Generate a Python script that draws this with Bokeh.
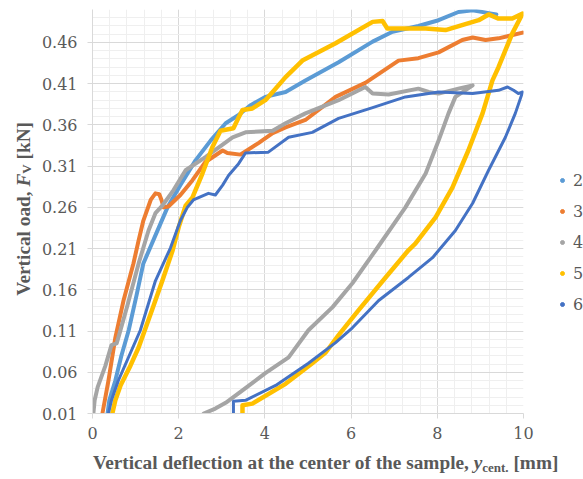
from bokeh.plotting import figure
from bokeh.models import (FixedTicker, Legend, LegendItem, Range1d, Div)
from bokeh.layouts import column, row
from bokeh.embed import file_html
from bokeh.resources import INLINE

# ---------------- data ----------------
series_names = ["2", "3", "4", "5", "6"]

x2 = [0.35, 0.39, 0.53, 0.67, 0.84, 1.02, 1.18, 1.46, 1.74, 2.04, 2.39, 2.74,
      3.09, 3.39, 3.67, 4.01, 4.48, 4.94, 5.71, 6.50, 6.96, 7.56, 8.03, 8.49,
      8.82, 9.26, 9.37]
y2 = [0.010, 0.026, 0.050, 0.080, 0.111, 0.153, 0.192, 0.226, 0.260, 0.287,
      0.317, 0.341, 0.362, 0.372, 0.384, 0.394, 0.400, 0.414, 0.436, 0.461,
      0.473, 0.480, 0.487, 0.497, 0.499, 0.495, 0.494]

x3 = [0.23, 0.37, 0.53, 0.72, 0.95, 1.07, 1.18, 1.35, 1.46, 1.55, 1.60, 1.65,
      1.76, 2.04, 2.32, 2.62, 3.02, 3.13, 3.43, 3.85, 4.18, 4.48, 4.94, 5.64,
      6.33, 7.10, 7.56, 8.03, 8.58, 8.82, 9.12, 9.42, 9.98]
y3 = [0.010, 0.050, 0.102, 0.147, 0.192, 0.220, 0.244, 0.269, 0.277, 0.276,
      0.269, 0.260, 0.261, 0.275, 0.293, 0.315, 0.329, 0.326, 0.324, 0.338,
      0.350, 0.357, 0.366, 0.394, 0.411, 0.438, 0.441, 0.448, 0.463, 0.466,
      0.463, 0.465, 0.472]

x4 = [0.02, 0.05, 0.12, 0.30, 0.44, 0.56, 0.60, 0.81, 1.07, 1.30, 1.46, 1.62,
      1.88, 2.16, 2.62, 3.25, 3.55, 4.18, 4.48, 4.94, 5.71, 6.33, 6.50, 6.87,
      7.56, 7.80, 8.03, 8.49, 8.82,
      8.42, 8.26, 8.03, 7.73, 7.26, 6.57, 6.03, 5.57, 5.01, 4.55, 4.01, 3.48,
      3.09, 2.85, 2.58]
y4 = [0.010, 0.026, 0.042, 0.068, 0.093, 0.095, 0.102, 0.141, 0.192, 0.232,
      0.253, 0.262, 0.281, 0.305, 0.321, 0.345, 0.351, 0.353, 0.362, 0.374,
      0.390, 0.406, 0.398, 0.397, 0.404, 0.400, 0.398, 0.404, 0.408,
      0.394, 0.374, 0.341, 0.301, 0.260, 0.208, 0.168, 0.139, 0.111, 0.078,
      0.059, 0.038, 0.023, 0.016, 0.010]

x5 = [0.46, 0.53, 0.65, 0.88, 1.07, 1.35, 1.62, 1.86, 2.00, 2.16, 2.32, 2.55,
      2.78, 2.97, 3.27, 3.39, 3.48, 3.71, 4.01, 4.18, 4.48, 4.87, 5.64, 6.50,
      6.73, 6.84, 7.73, 8.19, 8.96, 9.19, 9.42, 9.74, 9.98,
      9.74, 9.42, 9.28, 9.05, 8.72, 8.35, 7.96, 7.49, 7.33, 6.80, 6.17, 5.71,
      5.41, 5.10, 4.48, 3.71, 3.48, 3.48]
y5 = [0.010, 0.026, 0.044, 0.068, 0.090, 0.131, 0.171, 0.208, 0.236, 0.262,
      0.272, 0.301, 0.333, 0.353, 0.356, 0.369, 0.378, 0.380, 0.390, 0.400,
      0.418, 0.438, 0.459, 0.485, 0.486, 0.477, 0.477, 0.475, 0.487, 0.494,
      0.489, 0.489, 0.495,
      0.471, 0.430, 0.414, 0.374, 0.329, 0.284, 0.248, 0.216, 0.208, 0.175,
      0.135, 0.105, 0.084, 0.071, 0.046, 0.022, 0.020, 0.010]

x6 = [0.37, 0.44, 0.60, 1.11, 1.46, 1.81, 2.04, 2.20, 2.34, 2.69, 2.85, 3.02,
      3.16, 3.39, 3.55, 4.08, 4.55, 5.10, 5.71, 6.50, 7.26, 8.03, 8.82, 9.42,
      9.63, 9.77, 9.88, 9.98,
      9.81, 9.58, 9.19, 8.82, 8.42, 7.89, 7.33, 6.64, 6.03, 5.64, 5.01, 4.25,
      3.55, 3.27, 3.27]
y6 = [0.010, 0.026, 0.050, 0.111, 0.171, 0.211, 0.244, 0.260, 0.269, 0.277,
      0.275, 0.287, 0.299, 0.313, 0.326, 0.327, 0.345, 0.351, 0.368, 0.381,
      0.394, 0.400, 0.398, 0.402, 0.406, 0.402, 0.398, 0.400,
      0.374, 0.345, 0.305, 0.265, 0.232, 0.199, 0.175, 0.147, 0.114, 0.096,
      0.071, 0.044, 0.026, 0.025, 0.010]

xs = [x2, x3, x4, x5, x6]
ys = [y2, y3, y4, y5, y6]

x_ticks = [0, 2, 4, 6, 8, 10]
y_ticks = [0.01, 0.06, 0.11, 0.16, 0.21, 0.26, 0.31, 0.36, 0.41, 0.46]

x_title_main = "Vertical deflection at the center of the sample, "
x_title_var = "y"
x_title_sub = "cent."
x_title_unit = " [mm]"
y_title_main = "Vertical oad, "
y_title_var = "F"
y_title_sub = "V"
y_title_unit = " [kN]"

# ---------------- styles ----------------
colors = ["#5B9BD5", "#ED7D31", "#A5A5A5", "#FFC000", "#4472C4"]
widths = [4, 4, 4, 4.5, 3]
TXT = "#595959"
TICK_FONT = "DejaVu Serif"
FS = "16px"

p = figure(frame_width=431, frame_height=404, output_backend="svg",
           toolbar_location=None,
           x_range=Range1d(0, 10), y_range=Range1d(0.01, 0.50),
           min_border_left=49, min_border_right=65, min_border_top=9,
           min_border_bottom=35, margin=0)
p.outline_line_color = None
p.background_fill_color = "white"
p.border_fill_color = "white"

minor_x = [i * 0.4 for i in range(26)]
minor_y = [0.01 + i * 0.01 for i in range(50)]
p.xaxis.ticker = FixedTicker(ticks=x_ticks, minor_ticks=minor_x)
p.yaxis.ticker = FixedTicker(ticks=y_ticks, minor_ticks=minor_y)

for ax in (p.xaxis, p.yaxis):
    ax.axis_line_color = "#D9D9D9"
    ax.major_tick_line_color = "#D9D9D9"
    ax.major_tick_in = 0
    ax.major_tick_out = 5
    ax.minor_tick_in = 0
    ax.minor_tick_out = 0
    ax.major_label_text_font = TICK_FONT
    ax.major_label_text_font_size = FS
    ax.major_label_text_color = TXT
p.xaxis.major_label_standoff = 8
p.yaxis.major_label_standoff = 10

for g in (p.xgrid, p.ygrid):
    g.grid_line_color = "#D9D9D9"
    g.minor_grid_line_color = "#EFEFEF"

dummies = []
for xv, yv, c, w in zip(xs, ys, colors, widths):
    p.line(xv, yv, line_color=c, line_width=w, line_join="round",
           line_cap="round")
for c in colors:
    r = p.scatter(x=[-100], y=[-100], size=5, fill_color=c, line_color=c)
    dummies.append(r)

legend = Legend(items=[LegendItem(label=n, renderers=[r])
                       for n, r in zip(series_names, dummies)],
                location=(34, 99), orientation="vertical",
                background_fill_alpha=0, border_line_color=None,
                padding=0, margin=0, spacing=11, glyph_height=20,
                glyph_width=10, label_height=20, label_standoff=6,
                label_text_font=TICK_FONT,
                label_text_font_size=FS, label_text_color=TXT)
p.add_layout(legend, "right")

# ---------------- axis titles (rich text) ----------------
base = ("font-family:'Liberation Serif'; font-weight:bold; font-size:19.3px; "
        "line-height:22px; color:#595959; white-space:nowrap;")
sub = "font-size:13px; vertical-align:-3px;"

y_html = ('<div style="position:relative; width:38px; height:448px;">'
          '<div style="position:absolute; left:13px; top:122px; '
          'writing-mode:vertical-rl; transform:rotate(180deg); ' + base + '">'
          + y_title_main + '<i>' + y_title_var + '</i><sub style="' + sub + '">'
          + y_title_sub + '</sub>' + y_title_unit + '</div></div>')
x_html = ('<div style="position:relative; width:583px; height:31px;">'
          '<div style="position:absolute; left:93px; top:4px; ' + base + '">'
          + x_title_main + '<i>' + x_title_var + '</i><sub style="' + sub + '">'
          + x_title_sub + '</sub>' + x_title_unit + '</div></div>')

ydiv = Div(text=y_html, width=38, height=448, margin=0)
xdiv = Div(text=x_html, width=583, height=31, margin=0)

layout = column(row(ydiv, p, spacing=0), xdiv, spacing=0)

open("out.html", "w").write(file_html(layout, INLINE))
